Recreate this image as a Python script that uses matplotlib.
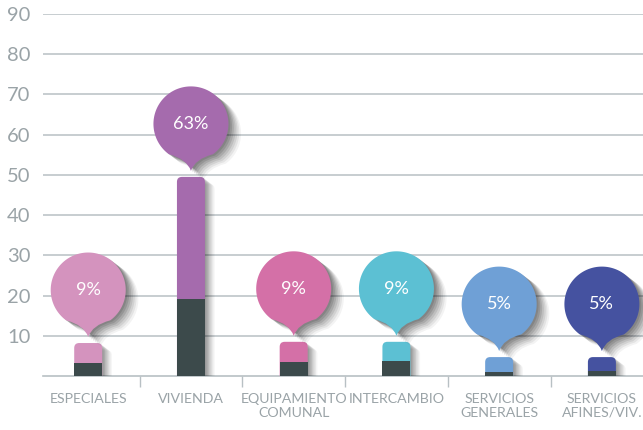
import matplotlib
matplotlib.use("Agg")
import matplotlib.pyplot as plt
import matplotlib.transforms as mtransforms
import matplotlib.patheffects as pe
from matplotlib.patches import FancyBboxPatch, PathPatch, Rectangle
from matplotlib.path import Path
import numpy as np

# ---- data ----
categories = ["ESPECIALES", "VIVIENDA", "EQUIPAMIENTO\nCOMUNAL", "INTERCAMBIO",
              "SERVICIOS\nGENERALES", "SERVICIOS\nAFINES/VIV."]
totals = [8.2, 49.5, 8.5, 8.5, 4.7, 4.7]
dark_part = [3.2, 19.1, 3.5, 3.7, 1.0, 1.2]
pct_labels = ["9%", "63%", "9%", "9%", "5%", "5%"]
colors = ["#D493BE", "#A56BAD", "#D470A7", "#5CC0D3", "#6FA0D6", "#4552A0"]
dark_color = "#3C4A4B"
yticks = [10, 20, 30, 40, 50, 60, 70, 80, 90]

FONT = "Lato"
grid_c = "#B8C0C4"
text_c = "#9AA3A7"

fig = plt.figure(figsize=(6.43, 4.30), dpi=100)
fig.patch.set_facecolor("white")
ax = fig.add_axes([43/643, 54/430, 600/643, 362/430])
ax.set_xlim(-0.44, 5.40)
ax.set_ylim(0, 90)

for s in ["top", "right", "left"]:
    ax.spines[s].set_visible(False)
ax.spines["bottom"].set_color(grid_c)
ax.spines["bottom"].set_linewidth(1.2)

ax.set_yticks(yticks)
ax.set_yticklabels([str(v) for v in yticks], fontsize=14.5, color=text_c,
                   family=FONT, fontweight="normal")
ax.tick_params(axis="y", length=0, pad=9)
ax.yaxis.grid(True, color=grid_c, linewidth=1.1)
ax.set_axisbelow(True)

xs = np.arange(len(categories))
ax.set_xticks(xs)
ax.set_xticklabels(categories, fontsize=10.2, color=text_c, family=FONT,
                   fontweight="normal", linespacing=1.2)
ax.tick_params(axis="x", which="major", length=0, pad=12)
ax.set_xticks(xs[:-1] + 0.5, minor=True)
ax.tick_params(axis="x", which="minor", length=8, width=1, color=grid_c, direction="out")


def shadows(scale=1.0, strength=1.0):
    effs = []
    for off, a in [(7, 0.035), (6, 0.045), (5, 0.055), (4, 0.065), (3, 0.075), (2, 0.08), (1, 0.08)]:
        effs.append(pe.SimplePatchShadow(offset=(off * scale, -off * 0.75 * scale),
                                         shadow_rgbFace="black", alpha=a * strength))
    effs.append(pe.Normal())
    return effs


fig.canvas.draw()
p0 = ax.transData.transform((0, 0))
p1 = ax.transData.transform((1, 1))
px_x = p1[0] - p0[0]
px_y = p1[1] - p0[1]

bar_w = 28 / px_x
r_px = 5
r_x = r_px / px_x
asp = px_x / px_y

for i, (x, tot, dk, col) in enumerate(zip(xs, totals, dark_part, colors)):
    top = FancyBboxPatch((x - bar_w / 2, -3), bar_w, tot + 3,
                         boxstyle=f"round,pad=0,rounding_size={r_x}",
                         mutation_aspect=asp, facecolor=col, edgecolor="none",
                         zorder=3)
    top.set_path_effects(shadows(1.0, 1.1))
    ax.add_patch(top)
    ax.add_patch(Rectangle((x - bar_w / 2, 0), bar_w, dk, facecolor=dark_color,
                           edgecolor="none", zorder=4))


# balloon shape in pixels (tip at origin)
R = 37.5
D = 47.0
ang = 36
th = np.deg2rad(np.linspace(-90 + ang, 270 - ang, 160))
cx = R * np.cos(th)
cy = D + R * np.sin(th)
verts = [(0, 0), (4.0, 12.0), (cx[0], cy[0])]
codes = [Path.MOVETO, Path.CURVE3, Path.CURVE3]
for a, b in zip(cx[1:], cy[1:]):
    verts.append((a, b))
    codes.append(Path.LINETO)
verts += [(-4.0, 12.0), (0, 0), (0, 0)]
codes += [Path.CURVE3, Path.CURVE3, Path.CLOSEPOLY]
balloon = Path(np.array(verts) / 100.0, codes)

gap = 6
for x, tot, col, lab in zip(xs, totals, colors, pct_labels):
    trans = (fig.dpi_scale_trans +
             mtransforms.Affine2D().translate(0, gap) +
             mtransforms.ScaledTranslation(x, tot, ax.transData))
    bp = PathPatch(balloon, transform=trans, facecolor=col, edgecolor="none",
                   zorder=6, clip_on=False)
    bp.set_path_effects(shadows(1.3, 1.4))
    ax.add_patch(bp)
    ttrans = mtransforms.offset_copy(ax.transData, fig=fig, x=0, y=gap + D, units="dots")
    ax.text(x, tot, lab, transform=ttrans, ha="center", va="center", color="white",
            fontsize=13, family=FONT, fontweight="normal", zorder=7)

fig.savefig("out.png", dpi=100, facecolor="white")
